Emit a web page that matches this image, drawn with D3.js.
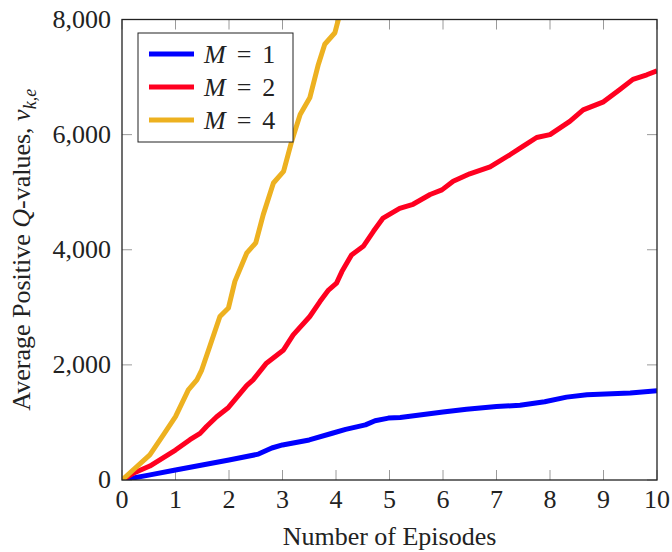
<!DOCTYPE html>
<html>
<head>
<meta charset="utf-8">
<script src="https://cdn.jsdelivr.net/npm/d3@7"></script>
<style>
  body { margin: 0; background: #fff; }
  svg text { font-family: "Liberation Serif", "Times New Roman", serif; fill: #222; }
</style>
</head>
<body>
<div id="chart"></div>
<script>
// episodes / values
var ep1 = [0, 0.5, 1, 1.5, 2, 2.55, 2.8, 3, 3.5, 3.93, 4.18, 4.55, 4.73, 4.98, 5.2, 6, 6.44, 7, 7.44, 7.9, 8.31, 8.69, 9.5, 10];
var m1  = [0, 85, 174, 260, 348, 450, 556, 609, 696, 812, 880, 957, 1030, 1075, 1085, 1180, 1230, 1275, 1300, 1360, 1440, 1480, 1510, 1550];

var ep2 = [0, 0.21, 0.52, 1, 1.27, 1.46, 1.58, 1.77, 1.99, 2.08, 2.33, 2.45, 2.7, 3.02, 3.2, 3.51, 3.7, 3.86, 4.01, 4.11, 4.29, 4.51, 4.7, 4.88, 5.19, 5.44, 5.76, 5.98, 6.19, 6.5, 6.88, 7.25, 7.5, 7.75, 8, 8.37, 8.62, 9, 9.3, 9.55, 9.81, 10];
var m2  = [0, 116, 243, 520, 700, 810, 930, 1100, 1260, 1360, 1640, 1740, 2030, 2260, 2520, 2840, 3100, 3300, 3420, 3620, 3910, 4060, 4320, 4550, 4720, 4790, 4960, 5040, 5190, 5320, 5440, 5650, 5800, 5950, 6000, 6230, 6430, 6570, 6780, 6960, 7040, 7110];

var ep4 = [0, 0.52, 0.77, 1, 1.24, 1.4, 1.49, 1.64, 1.83, 1.99, 2.11, 2.33, 2.5, 2.64, 2.83, 3.02, 3.17, 3.33, 3.51, 3.67, 3.79, 3.98, 4.1];
var m4  = [0, 435, 780, 1100, 1565, 1740, 1910, 2320, 2840, 2990, 3450, 3940, 4120, 4610, 5160, 5360, 5880, 6350, 6640, 7220, 7570, 7770, 8200];

var seriesNames = ["M = 1", "M = 2", "M = 4"];
var seriesColors = ["#0000ff", "#ff0020", "#edb120"];
var xTicks = [0, 1, 2, 3, 4, 5, 6, 7, 8, 9, 10];
var yTicks = [0, 2000, 4000, 6000, 8000];

var margin = {top: 19.5, right: 15, bottom: 72, left: 122},
    W = 672, H = 552,
    width = W - margin.left - margin.right,
    height = H - margin.top - margin.bottom;

var x = d3.scaleLinear().domain([0, 10]).range([0, width]),
    y = d3.scaleLinear().domain([0, 8000]).range([height, 0]);

var svg = d3.select("#chart").append("svg")
    .attr("width", W)
    .attr("height", H);

var g = svg.append("g")
    .attr("transform", "translate(" + margin.left + "," + margin.top + ")");

g.append("clipPath").attr("id", "clip")
  .append("rect").attr("width", width).attr("height", height);

// inward gray ticks on all four sides
var tickCol = "#9a9a9a", tl = 10;
g.selectAll(".xt").data(xTicks).enter().append("path")
    .attr("d", function (d) { return "M" + x(d) + "," + height + "v" + (-tl) + "M" + x(d) + ",0v" + tl; })
    .attr("stroke", tickCol).attr("stroke-width", 1);
g.selectAll(".yt").data(yTicks).enter().append("path")
    .attr("d", function (d) { return "M0," + y(d) + "h" + tl + "M" + width + "," + y(d) + "h" + (-tl); })
    .attr("stroke", tickCol).attr("stroke-width", 1);

var data = [[ep1, m1], [ep2, m2], [ep4, m4]];
var line = d3.line()
    .x(function (d) { return x(d[0]); })
    .y(function (d) { return y(d[1]); });

g.append("g").attr("clip-path", "url(#clip)")
  .selectAll(".series")
  .data(data)
  .enter().append("path")
    .attr("d", function (d) { return line(d3.zip(d[0], d[1])); })
    .attr("fill", "none")
    .attr("stroke", function (d, i) { return seriesColors[i]; })
    .attr("stroke-width", 5)
    .attr("stroke-linejoin", "round");

// frame
g.append("rect")
    .attr("width", width).attr("height", height)
    .attr("fill", "none").attr("stroke", "#222").attr("stroke-width", 1.3);

// tick labels
g.selectAll(".xl").data(xTicks).enter().append("text")
    .attr("x", function (d) { return x(d); })
    .attr("y", height + 28)
    .attr("text-anchor", "middle")
    .style("font-size", "26px")
    .text(function (d) { return d; });

g.selectAll(".yl").data(yTicks).enter().append("text")
    .attr("x", -11)
    .attr("y", function (d) { return y(d) + 8; })
    .attr("text-anchor", "end")
    .style("font-size", "26px")
    .text(function (d) { return d3.format(",")(d); });

// axis titles
svg.append("text")
    .attr("x", margin.left + width / 2)
    .attr("y", 545)
    .attr("text-anchor", "middle")
    .style("font-size", "26px")
    .text("Number of Episodes");

var yl = svg.append("text")
    .attr("transform", "translate(30," + (margin.top + height / 2) + ")rotate(-90)")
    .attr("text-anchor", "middle")
    .style("font-size", "26px");
yl.append("tspan").text("Average Positive ");
yl.append("tspan").attr("font-style", "italic").text("Q");
yl.append("tspan").text("-values, ");
yl.append("tspan").attr("font-style", "italic").text("v");
yl.append("tspan").attr("font-style", "italic").attr("dy", 6).style("font-size", "18px").text("k,e");

// legend
var lg = svg.append("g").attr("transform", "translate(138,33)");
lg.append("rect")
    .attr("width", 155).attr("height", 109)
    .attr("fill", "#fff").attr("stroke", "#222").attr("stroke-width", 1);

seriesNames.forEach(function (name, i) {
    var yy = 21 + i * 33;
    lg.append("line")
        .attr("x1", 11).attr("x2", 56)
        .attr("y1", yy).attr("y2", yy)
        .attr("stroke", seriesColors[i]).attr("stroke-width", 5);
    var t = lg.append("text")
        .attr("x", 66).attr("y", yy + 9)
        .style("font-size", "26px");
    var parts = name.split(" = ");
    t.append("tspan").attr("font-style", "italic").text(parts[0]);
    t.append("tspan").attr("dx", 11).text("=");
    t.append("tspan").attr("dx", 11).text(parts[1]);
});
</script>
</body>
</html>
